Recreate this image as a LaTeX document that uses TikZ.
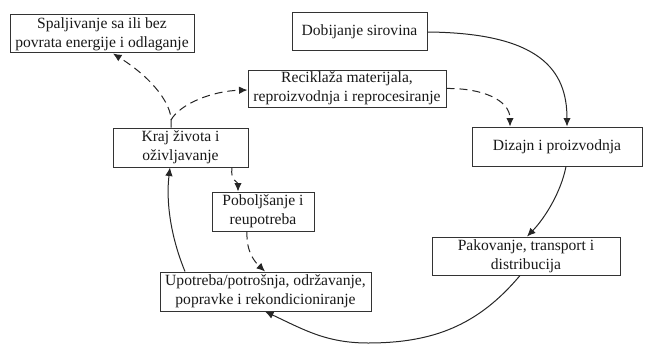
\documentclass[tikz,border=0pt]{standalone}
\usepackage{fontspec}
\setmainfont{Liberation Serif}
\usetikzlibrary{arrows.meta}
\begin{document}
\begin{tikzpicture}[x=1pt,y=-1pt,
  stage/.style={draw=black!80, line width=1pt, fill=white, align=center,
    inner sep=0pt, text=black!90, font=\fontsize{15.6}{19}\selectfont},
  flow/.style={draw=black!85, line width=1pt, -{Latex[length=8.5pt,width=7.5pt]}},
  alt/.style={flow, dash pattern=on 8pt off 5pt}]
\useasboundingbox (0,0) rectangle (650,345);

% life-cycle stages
\node[stage, minimum width=184pt, minimum height=38pt] (spal) at (102,34)
  {Spaljivanje sa ili bez\\povrata energije i odlaganje};
\node[stage, minimum width=135pt, minimum height=38pt] (dob) at (359.5,32)
  {Dobijanje sirovina};
\node[stage, minimum width=198pt, minimum height=37pt] (rec) at (347,88.5)
  {Reciklaža materijala,\\reproizvodnja i reprocesiranje};
\node[stage, minimum width=135pt, minimum height=39pt] (kraj) at (180.5,147.5)
  {Kraj života i\\oživljavanje};
\node[stage, minimum width=170pt, minimum height=39pt] (diz) at (557,146.5)
  {Dizajn i proizvodnja};
\node[stage, minimum width=102pt, minimum height=39pt] (pob) at (263,211.5)
  {Poboljšanje i\\reupotreba};
\node[stage, minimum width=188pt, minimum height=38pt] (pak) at (526,256)
  {Pakovanje, transport i\\distribucija};
\node[stage, minimum width=211pt, minimum height=39pt] (upo) at (265.5,291.5)
  {Upotreba/potrošnja, održavanje,\\popravke i rekondicioniranje};

\coordinate (split) at (171,120);
\coordinate (bottom) at (368,343);

% main cycle
\draw[flow] (dob.east) .. controls (540,33) and (567,70) .. ([xshift=10pt]diz.north);
\draw[flow] ([xshift=9pt]diz.south) .. controls (561,192) and (545,218) .. ([xshift=1pt]pak.north);
\draw[flow] ([xshift=-6pt]pak.south) to[out=-130, in=0] (bottom)
  to[out=180, in=-25] ([xshift=-0.5pt]upo.south);
\draw[flow] ([xshift=-80.5pt]upo.north) .. controls (170,235) and (166,200) .. ([xshift=-10.5pt]kraj.south);

% return loops
\draw[alt] (rec.east) .. controls (482,88) and (510,100) .. ([xshift=-47pt]diz.north);
\draw[alt] ([xshift=51.5pt]kraj.south) .. controls (230,181) and (238,182) .. ([xshift=-25pt]pob.north);
\draw[alt] ([xshift=-16pt]pob.south) .. controls (246,252) and (255,262) .. ([xshift=-0.5pt]upo.north);
\draw[alt] ([xshift=-9.5pt]kraj.north) -- (split) .. controls (171,105) and (155,80) .. ([xshift=11pt]spal.south);
\draw[alt] (split) .. controls (180,104) and (212,91) .. ([yshift=-1.5pt]rec.west);
\end{tikzpicture}
\end{document}
